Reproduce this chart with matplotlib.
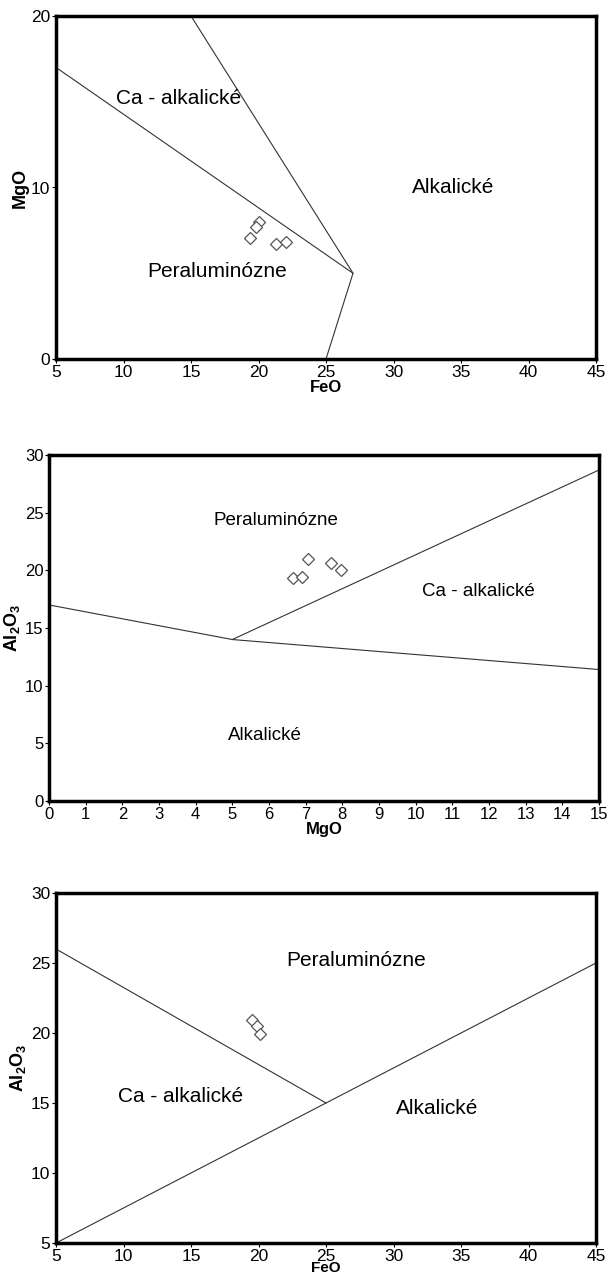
import matplotlib
matplotlib.use("Agg")
import matplotlib.pyplot as plt

plt.rcParams['font.family'] = ['Liberation Sans', 'DejaVu Sans']
plt.rcParams['mathtext.fontset'] = 'custom'
plt.rcParams['mathtext.rm'] = 'Liberation Sans'
plt.rcParams['mathtext.bf'] = 'Liberation Sans:bold'

# ---- Panel 1: FeO vs MgO ----
p1_feo = [20.0, 19.8, 19.4, 21.3, 22.0]
p1_mgo = [8.0, 7.7, 7.05, 6.7, 6.85]
p1_line_a_x = [5, 27, 25]
p1_line_a_y = [17, 5, 0]
p1_line_b_x = [15, 27]
p1_line_b_y = [20, 5]
p1_labels = ["Ca - alkalické", "Alkalické", "Peraluminózne"]
p1_label_x = [14.1, 34.4, 16.9]
p1_label_y = [15.2, 10.0, 5.1]
p1_xticks = [5, 10, 15, 20, 25, 30, 35, 40, 45]
p1_yticks = [0, 10, 20]

# ---- Panel 2: MgO vs Al2O3 ----
p2_mgo = [7.05, 7.7, 7.95, 6.65, 6.9]
p2_al = [21.0, 20.6, 20.0, 19.35, 19.4]
p2_line_a_x = [0, 5, 15]
p2_line_a_y = [17, 14, 11.4]
p2_line_b_x = [5, 15]
p2_line_b_y = [14, 28.7]
p2_labels = ["Peraluminózne", "Ca - alkalické", "Alkalické"]
p2_label_x = [6.2, 11.7, 5.9]
p2_label_y = [24.3, 18.15, 5.7]
p2_xticks = list(range(0, 16))
p2_yticks = [0, 5, 10, 15, 20, 25, 30]

# ---- Panel 3: FeO vs Al2O3 ----
p3_feo = [19.5, 19.9, 20.1]
p3_al = [20.9, 20.5, 19.9]
p3_line_a_x = [5, 25]
p3_line_a_y = [26, 15]
p3_line_b_x = [5, 45]
p3_line_b_y = [5, 25]
p3_labels = ["Peraluminózne", "Ca - alkalické", "Alkalické"]
p3_label_x = [27.2, 14.2, 33.2]
p3_label_y = [25.2, 15.5, 14.6]
p3_xticks = [5, 10, 15, 20, 25, 30, 35, 40, 45]
p3_yticks = [5, 10, 15, 20, 25, 30]

W, H = 611, 1276
fig = plt.figure(figsize=(W / 100, H / 100), dpi=100)


def make_ax(l, t, r, b):
    return fig.add_axes([l / W, 1 - b / H, (r - l) / W, (b - t) / H])


def style(ax, xlim, ylim, xticks, yticks, xlabel, ylabel, tsize=12.5,
          xl_size=12, xl_pad=0):
    ax.set_xlim(*xlim)
    ax.set_ylim(*ylim)
    ax.set_xticks(xticks)
    ax.set_yticks(yticks)
    for s in ax.spines.values():
        s.set_linewidth(2.5)
        s.set_color('black')
    ax.tick_params(direction='out', length=3, width=0.8, pad=1,
                   labelsize=tsize, colors='black')
    ax.set_xlabel(xlabel, fontsize=xl_size, fontweight='bold', labelpad=xl_pad)
    ax.set_ylabel(ylabel, fontsize=13, fontweight='bold', labelpad=2)


line_kw = dict(color='#333333', lw=0.8)
pt_kw = dict(ls='none', marker='D', ms=6, mfc='white', mec='#555555', mew=0.9)
txt_kw = dict(ha='center', va='center', color='black')

# Panel 1
ax1 = make_ax(56, 16, 596, 359)
ax1.plot(p1_line_a_x, p1_line_a_y, **line_kw)
ax1.plot(p1_line_b_x, p1_line_b_y, **line_kw)
ax1.plot(p1_feo, p1_mgo, **pt_kw)
for t, x, y in zip(p1_labels, p1_label_x, p1_label_y):
    ax1.text(x, y, t, fontsize=15, **txt_kw)
style(ax1, (5, 45), (0, 20), p1_xticks, p1_yticks, 'FeO', 'MgO')

# Panel 2
ax2 = make_ax(49, 455, 599, 801)
ax2.plot(p2_line_a_x, p2_line_a_y, **line_kw)
ax2.plot(p2_line_b_x, p2_line_b_y, **line_kw)
ax2.plot(p2_mgo, p2_al, **pt_kw)
for t, x, y in zip(p2_labels, p2_label_x, p2_label_y):
    ax2.text(x, y, t, fontsize=13.5, **txt_kw)
style(ax2, (0, 15), (0, 30), p2_xticks, p2_yticks, 'MgO', r'$\mathbf{Al_2O_3}$', tsize=12)

# Panel 3
ax3 = make_ax(56, 893, 596, 1243)
ax3.plot(p3_line_a_x, p3_line_a_y, **line_kw)
ax3.plot(p3_line_b_x, p3_line_b_y, **line_kw)
ax3.plot(p3_feo, p3_al, **pt_kw)
for t, x, y in zip(p3_labels, p3_label_x, p3_label_y):
    ax3.text(x, y, t, fontsize=15, **txt_kw)
style(ax3, (5, 45), (5, 30), p3_xticks, p3_yticks, 'FeO', r'$\mathbf{Al_2O_3}$',
      xl_size=11, xl_pad=-1.5)

fig.savefig('out.png', dpi=100)
